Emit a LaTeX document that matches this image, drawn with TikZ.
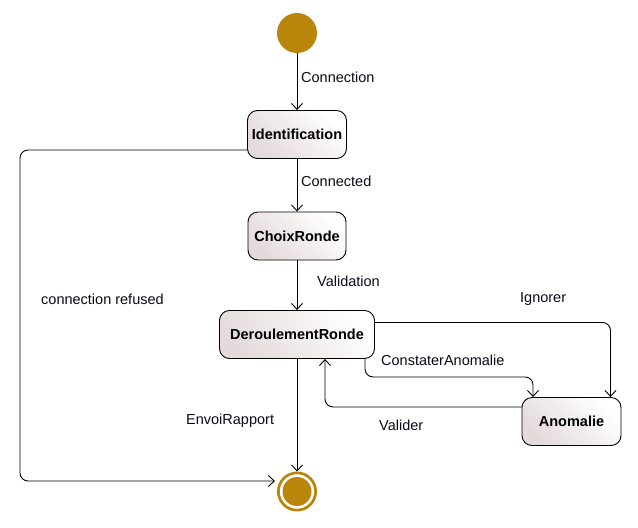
\documentclass[tikz,border=0pt]{standalone}
\usepackage{fontspec}
\setmainfont{Liberation Sans}
\usetikzlibrary{arrows.meta}
\definecolor{gold}{RGB}{185,133,11}
\definecolor{boxdark}{RGB}{228,218,218}
\definecolor{txt}{RGB}{10,10,25}
\tikzset{
  state/.style={draw=black, line width=0.9pt, rounded corners=10pt, shading=axis,
    top color=white, bottom color=boxdark, shading angle=-45,
    minimum height=48pt, inner sep=0pt, text=black,
    font=\fontsize{14.5}{17}\selectfont\bfseries},
  arr/.style={draw=black, line width=0.9pt, rounded corners=8pt,
    -{Straight Barb[length=6pt,width=11pt,line width=0.9pt]}},
  lbl/.style={anchor=west, inner sep=0pt, text=txt, font=\fontsize{14.5}{17}\selectfont}
}
\begin{document}
\begin{tikzpicture}[x=1pt,y=-1pt]
\useasboundingbox (0,0) rectangle (638,528);
\fill[white] (0,0) rectangle (638,528);
% initial state
\node[circle, fill=gold, minimum size=40pt, inner sep=0pt] (init) at (297,33) {};
% states
\node[state, minimum width=99pt] (ident) at (297,134.5) {Identification};
\node[state, minimum width=98pt] (choix) at (297,236) {ChoixRonde};
\node[state, minimum width=155pt] (derou) at (297,334.5) {DeroulementRonde};
\node[state, minimum width=99pt] (anom) at (571.5,421.5) {Anomalie};
% final state
\node[circle, draw=gold, line width=2.7pt, minimum size=37.3pt, inner sep=0pt] (final) at (297,491.5) {};
\fill[gold] (final.center) circle (14.5);
\coordinate (finin) at (275,481);
% transitions
\draw[arr] (init) -- (ident);
\draw[arr] (ident) -- (choix);
\draw[arr] (choix) -- (derou);
\draw[arr] (derou) -- (final);
\draw[arr] ([yshift=-15.5pt]ident.west) -- (20,150) -- (20,481) -- (finin);
\draw[arr] ([yshift=12pt]derou.east) -| ([xshift=39pt]anom.north);
\draw[arr] ([xshift=68pt]derou.south) -- ++(0,18) -| ([xshift=-38.5pt]anom.north);
\draw[arr] ([yshift=14.5pt]anom.west) -| ([xshift=28pt]derou.south);
% labels
\node[lbl] (l1) at (301,77) {Connection};
\node[lbl] (l2) at (301,181) {Connected};
\node[lbl] (l3) at (317,281) {Validation};
\node[lbl] (l4) at (41,299) {connection refused};
\node[lbl] (l5) at (520,299) {Ignorer};
\node[lbl] (l6) at (381,360) {ConstaterAnomalie};
\node[lbl] (l7) at (379,425) {Valider};
\node[lbl] (l8) at (186,421) {EnvoiRapport};
\end{tikzpicture}
\end{document}
